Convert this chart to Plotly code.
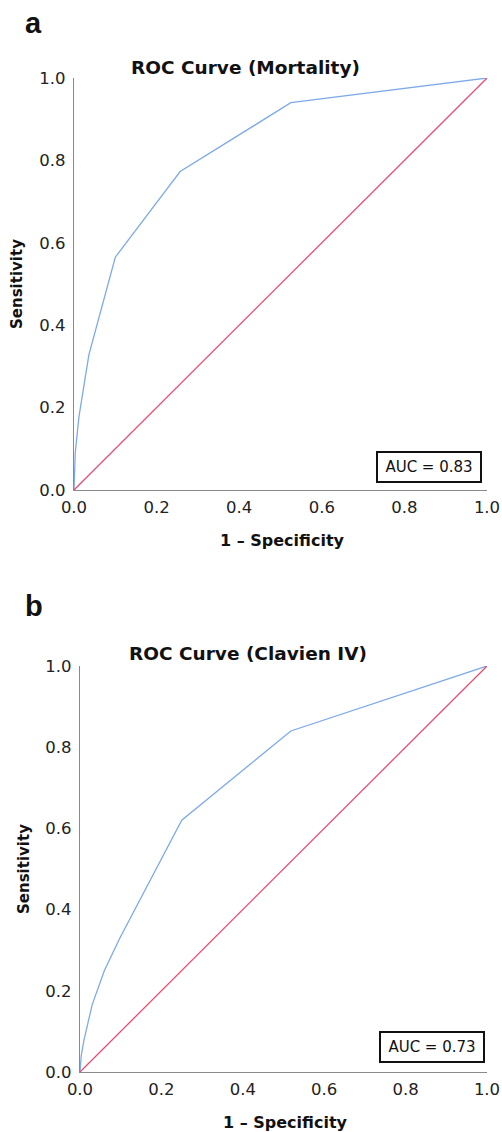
import plotly.graph_objects as go

# ---- data ----
fpr_mortality = [0.0, 0.003, 0.012, 0.036, 0.100, 0.257, 0.525, 1.0]
tpr_mortality = [0.0, 0.090, 0.178, 0.328, 0.565, 0.773, 0.940, 1.0]

fpr_clavien = [0.0, 0.003, 0.010, 0.030, 0.060, 0.098, 0.250, 0.518, 1.0]
tpr_clavien = [0.0, 0.040, 0.080, 0.166, 0.250, 0.330, 0.620, 0.840, 1.0]

ref_x = [0.0, 1.0]
ref_y = [0.0, 1.0]

tick_vals = [0.0, 0.2, 0.4, 0.6, 0.8, 1.0]
tick_text = ["0.0", "0.2", "0.4", "0.6", "0.8", "1.0"]

titles = ["ROC Curve (Mortality)", "ROC Curve (Clavien IV)"]
auc_text = ["AUC = 0.83", "AUC = 0.73"]
panel_letters = ["a", "b"]

W, H = 502, 1132
BLUE = "#7eaaea"
RED = "#ea4d72"
AXC = "#8a8a8a"
FONT = "DejaVu Sans"

def px_x(p):
    return p / W

def px_y(p):
    return 1 - p / H

fig = go.Figure()

# panel geometry in pixels: (left, right, top, bottom)
panels = [(74, 487, 78, 490), (80, 487, 666, 1072)]
curves = [(fpr_mortality, tpr_mortality), (fpr_clavien, tpr_clavien)]

for i, ((l, r, t, b), (fx, fy)) in enumerate(zip(panels, curves)):
    xa = "x" if i == 0 else "x2"
    ya = "y" if i == 0 else "y2"
    fig.add_trace(go.Scatter(x=fx, y=fy, mode="lines", line=dict(color=BLUE, width=1.3),
                             xaxis=xa, yaxis=ya, showlegend=False, cliponaxis=False,
                             hoverinfo="skip"))
    fig.add_trace(go.Scatter(x=ref_x, y=ref_y, mode="lines", line=dict(color=RED, width=1.3),
                             xaxis=xa, yaxis=ya, showlegend=False, cliponaxis=False,
                             hoverinfo="skip"))
    axis_common = dict(range=[0, 1], tickvals=tick_vals, ticktext=tick_text,
                       showgrid=False, zeroline=False, showline=True, linecolor=AXC,
                       linewidth=1.3, ticks="", tickfont=dict(family=FONT, size=16.5, color="#222"),
                       fixedrange=True, automargin=False)
    xkey = "xaxis" if i == 0 else "xaxis2"
    ykey = "yaxis" if i == 0 else "yaxis2"
    fig.update_layout(**{
        xkey: dict(domain=[px_x(l), px_x(r)], anchor=ya, ticklabelstandoff=2, **axis_common),
        ykey: dict(domain=[px_y(b), px_y(t)], anchor=xa, ticklabelstandoff=4, **axis_common),
    })

annotations = []
# panel letters
letter_pos = [(33, 23), (34, 606)]
for txt, (x, y) in zip(panel_letters, letter_pos):
    annotations.append(dict(text=f"<b>{txt}</b>", x=px_x(x), y=px_y(y), xref="paper", yref="paper",
                            showarrow=False, xanchor="center", yanchor="middle",
                            font=dict(family="Liberation Sans", size=29, color="#111")))
# titles
title_pos = [(245, 68), (248, 653)]
for txt, (x, y) in zip(titles, title_pos):
    annotations.append(dict(text=f"<b>{txt}</b>", x=px_x(x), y=px_y(y), xref="paper", yref="paper",
                            showarrow=False, xanchor="center", yanchor="middle",
                            font=dict(family=FONT, size=18.5, color="#111")))
# x axis titles
xt_pos = [(282, 540), (285, 1122)]
for (x, y) in xt_pos:
    annotations.append(dict(text="<b>1 – Specificity</b>", x=px_x(x), y=px_y(y), xref="paper", yref="paper",
                            showarrow=False, xanchor="center", yanchor="middle",
                            font=dict(family=FONT, size=16, color="#111")))
# y axis titles
yt_pos = [(17, 284), (24, 869)]
for (x, y) in yt_pos:
    annotations.append(dict(text="<b>Sensitivity</b>", x=px_x(x), y=px_y(y), xref="paper", yref="paper",
                            showarrow=False, xanchor="center", yanchor="middle", textangle=-90,
                            font=dict(family=FONT, size=15, color="#111")))
# AUC boxes
auc_pos = [(429, 467), (432, 1047)]
for txt, (x, y) in zip(auc_text, auc_pos):
    annotations.append(dict(text=txt, x=px_x(x), y=px_y(y), xref="paper", yref="paper",
                            showarrow=False, xanchor="center", yanchor="middle",
                            width=100, height=26, borderpad=1, bordercolor="#111", borderwidth=2,
                            bgcolor="white", font=dict(family=FONT, size=15, color="#111")))

fig.update_layout(width=W, height=H, margin=dict(l=0, r=0, t=0, b=0, autoexpand=False),
                  paper_bgcolor="white", plot_bgcolor="white", annotations=annotations,
                  showlegend=False)

fig.write_html("out.html", config={"displayModeBar": False},
               post_script="document.body.style.margin='0';document.body.style.overflow='hidden';")
